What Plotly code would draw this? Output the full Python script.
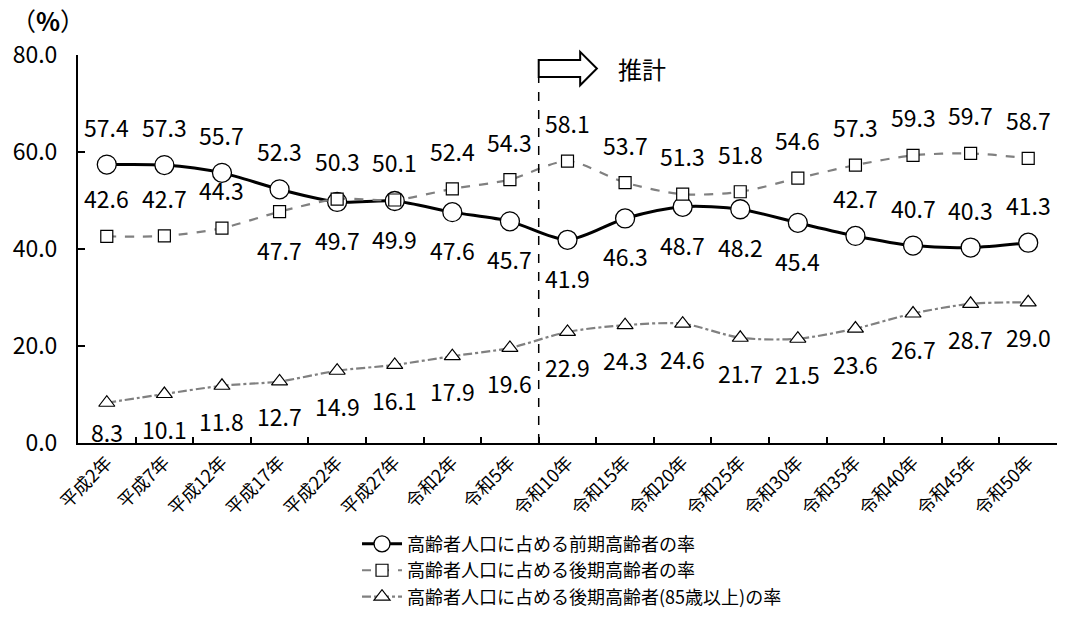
import plotly.graph_objects as go

# 年次（実績：平成2年〜令和5年、推計：令和10年〜令和50年）
years = ["平成2年", "平成7年", "平成12年", "平成17年", "平成22年", "平成27年",
         "令和2年", "令和5年", "令和10年", "令和15年", "令和20年", "令和25年",
         "令和30年", "令和35年", "令和40年", "令和45年", "令和50年"]

# 高齢者人口に占める割合（%）
early_elderly = [57.4, 57.3, 55.7, 52.3, 49.7, 49.9, 47.6, 45.7, 41.9,
                 46.3, 48.7, 48.2, 45.4, 42.7, 40.7, 40.3, 41.3]
late_elderly = [42.6, 42.7, 44.3, 47.7, 50.3, 50.1, 52.4, 54.3, 58.1,
                53.7, 51.3, 51.8, 54.6, 57.3, 59.3, 59.7, 58.7]
over85 = [8.3, 10.1, 11.8, 12.7, 14.9, 16.1, 17.9, 19.6, 22.9,
          24.3, 24.6, 21.7, 21.5, 23.6, 26.7, 28.7, 29.0]

names = ["高齢者人口に占める前期高齢者の率",
         "高齢者人口に占める後期高齢者の率",
         "高齢者人口に占める後期高齢者(85歳以上)の率"]

# データラベルの上下（1: 上, -1: 下）
early_side = [1, 1, 1, 1, -1, -1, -1, -1, -1, -1, -1, -1, -1, 1, 1, 1, 1]
late_side = [1, 1, 1, -1, 1, 1, 1, 1, 1, 1, 1, 1, 1, 1, 1, 1, 1]
over85_side = [-1] * len(over85)

FONT = "Noto Sans CJK JP"
idx = list(range(len(years)))

fig = go.Figure()
fig.add_trace(go.Scatter(
    x=idx, y=early_elderly, name=names[0], mode="lines+markers",
    line=dict(color="black", width=3, shape="spline", smoothing=0.8),
    marker=dict(symbol="circle", size=19, color="white",
                line=dict(color="black", width=1.3)),
))
fig.add_trace(go.Scatter(
    x=idx, y=late_elderly, name=names[1], mode="lines+markers",
    line=dict(color="#808080", width=2.2, dash="dash", shape="spline", smoothing=0.8),
    marker=dict(symbol="square", size=12, color="white",
                line=dict(color="black", width=1.2)),
))
fig.add_trace(go.Scatter(
    x=idx, y=over85, name=names[2], mode="lines+markers",
    line=dict(color="#808080", width=2.2, dash="dashdot", shape="spline", smoothing=0.8),
    marker=dict(symbol="triangle-up", size=14, color="white",
                line=dict(color="black", width=1.2)),
))

PX_PER_UNIT = 388 / 80.0


def add_labels(values, sides, gap):
    for i, (v, s) in enumerate(zip(values, sides)):
        shift = gap if s > 0 else -min(gap, v * PX_PER_UNIT - 11)
        fig.add_annotation(x=i, y=v, text=f"{v:.1f}", showarrow=False,
                           xanchor="center", yanchor="middle", yshift=shift,
                           font=dict(family=FONT, size=23, color="black"))


add_labels(early_elderly, early_side, 38)
add_labels(late_elderly, late_side, 38)
add_labels(over85, over85_side, 35)

# 推計開始の区切り線と矢印
fig.add_shape(type="line", xref="x", yref="paper", x0=7.5, x1=7.5, y0=0, y1=0.943,
              line=dict(color="black", width=1.5, dash="dash"))
fig.add_shape(type="path", xref="x", yref="paper",
              path="M 7.5,0.987 L 8.22,0.987 L 8.22,1.008 L 8.51,0.965 "
                   "L 8.22,0.922 L 8.22,0.943 L 7.5,0.943 Z",
              line=dict(color="black", width=2), fillcolor="white")
fig.add_annotation(x=9.29, y=0.965, xref="x", yref="paper", text="推計",
                   xanchor="center", yanchor="middle", showarrow=False,
                   font=dict(family=FONT, size=24, color="black"))
fig.add_annotation(x=-0.031, y=1.09, xref="paper", yref="paper", text="（<b>%</b>）",
                   xanchor="center", yanchor="middle", showarrow=False,
                   font=dict(family=FONT, size=25, color="black"))

fig.update_layout(
    width=1065, height=630,
    margin=dict(l=78, r=8, t=55, b=187),
    paper_bgcolor="white", plot_bgcolor="white",
    font=dict(family=FONT, color="black"),
    showlegend=True,
    legend=dict(x=0.285, y=-0.213, xanchor="left", yanchor="top",
                font=dict(family=FONT, size=18), bgcolor="rgba(0,0,0,0)",
                tracegroupgap=0, itemwidth=40),
)
fig.update_xaxes(
    range=[-0.5, 16.5], tickmode="array", tickvals=idx, ticktext=years,
    tickangle=-45, ticks="", showgrid=False, zeroline=False,
    showline=True, linecolor="black", linewidth=2,
    tickfont=dict(family=FONT, size=18),
    minor=dict(tickmode="array", tickvals=[i + 0.5 for i in idx[:-1]],
               ticks="inside", ticklen=6, tickcolor="black", tickwidth=1.5),
)
fig.update_yaxes(
    range=[0, 80], tickmode="array", tickvals=[0, 20, 40, 60, 80],
    tickformat=".1f", ticks="inside", ticklen=7, tickcolor="black", tickwidth=1.5,
    showgrid=False, zeroline=False, showline=True, linecolor="black", linewidth=2,
    tickfont=dict(family=FONT, size=23), ticklabelstandoff=14,
)

fig.write_html("out.html")
